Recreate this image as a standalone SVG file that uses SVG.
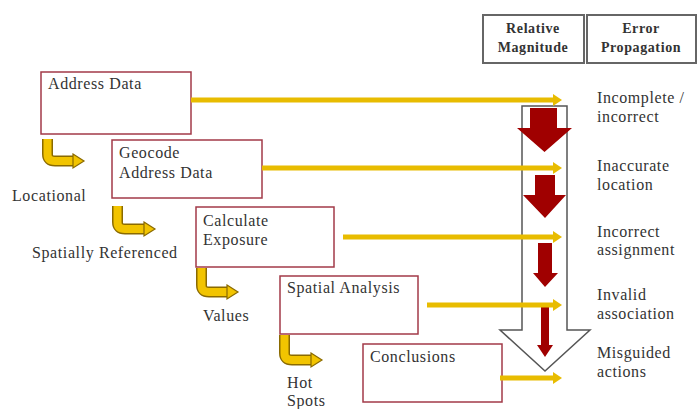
<svg xmlns="http://www.w3.org/2000/svg" width="697" height="409" viewBox="0 0 697 409">
<style>
  .box{fill:#fff;stroke:#a23a48;stroke-width:1.5}
  .hdr{fill:#fff;stroke:#666;stroke-width:2}
  .t{font-size:16px;letter-spacing:0.6px;fill:#333}
  .h{font-size:14px;font-weight:bold;letter-spacing:0.6px;fill:#333;text-anchor:middle}
  .yl{stroke:#e8bc00;stroke-width:5;fill:none}
  .yh{fill:#e8bc00}
  .bo{stroke:#8a6a00;stroke-width:11;fill:none;stroke-linejoin:round}
  .bi{stroke:#f2c400;stroke-width:8;fill:none;stroke-linejoin:round}
  .bh{fill:#f2c400;stroke:#8a6a00;stroke-width:1.2}
  .red{fill:#a00000}
</style>
<rect width="697" height="409" fill="#fff"/>
<g font-family="'Liberation Serif', 'Times New Roman', 'DejaVu Serif', serif">
<g id="header-magnitude">
  <rect class="hdr" x="483" y="15" width="101" height="48"/>
  <text class="h" x="533" y="33">Relative</text>
  <text class="h" x="533" y="52">Magnitude</text>
</g>
<g id="header-error">
  <rect class="hdr" x="587" y="15" width="109" height="48"/>
  <text class="h" x="641" y="33">Error</text>
  <text class="h" x="641" y="52">Propagation</text>
</g>
<g id="big-arrow">
  <polygon points="522,106 567,106 567,330 590,330 545,371 500,330 522,330" fill="#fff" stroke="#555" stroke-width="1.5"/>
</g>
<g id="red-arrows">
  <polygon class="red" points="530,108 557,108 557,128 572,128 544.5,152 517,128 530,128"/>
  <polygon class="red" points="535,175 555,175 555,195 566,195 545,218 523,195 535,195"/>
  <polygon class="red" points="538,243 552,243 552,273 558,273 545,287 533,273 538,273"/>
  <polygon class="red" points="541,307 549,307 549,345 553,345 545,357 537,345 541,345"/>
</g>
<g id="n1">
  <rect class="box" x="41" y="72" width="150" height="62"/>
  <text class="t" x="48" y="89">Address Data</text>
</g>
<g id="n2">
  <rect class="box" x="112" y="140" width="150" height="58"/>
  <text class="t" x="119" y="158">Geocode</text>
  <text class="t" x="119" y="178">Address Data</text>
</g>
<g id="n3">
  <rect class="box" x="196" y="207" width="138" height="60"/>
  <text class="t" x="203" y="226">Calculate</text>
  <text class="t" x="203" y="245">Exposure</text>
</g>
<g id="n4">
  <rect class="box" x="280" y="276" width="138" height="58"/>
  <text class="t" x="287" y="293">Spatial Analysis</text>
</g>
<g id="n5">
  <rect class="box" x="363" y="344" width="139" height="58"/>
  <text class="t" x="370" y="362">Conclusions</text>
</g>
<g id="connectors">
  <line class="yl" x1="191" y1="100" x2="554" y2="100"/>
  <polygon class="yh" points="553,94 562,100 553,106"/>
  <line class="yl" x1="262" y1="168" x2="554" y2="168"/>
  <polygon class="yh" points="553,162 562,168 553,174"/>
  <line class="yl" x1="343" y1="237" x2="554" y2="237"/>
  <polygon class="yh" points="553,231 562,237 553,243"/>
  <line class="yl" x1="427" y1="305" x2="554" y2="305"/>
  <polygon class="yh" points="553,299 562,305 553,311"/>
  <line class="yl" x1="500" y1="378" x2="554" y2="378"/>
  <polygon class="yh" points="553,372 562,378 553,384"/>

  <path class="bo" d="M47.5,139 V154 Q47.5,161 55,161 H74"/>
  <path class="bi" d="M47.5,139 V154 Q47.5,161 55,161 H74"/>
  <polygon class="bh" points="73,154 84,161 73,168"/>

  <path class="bo" d="M117.5,206 V222 Q117.5,229 125,229 H145"/>
  <path class="bi" d="M117.5,206 V222 Q117.5,229 125,229 H145"/>
  <polygon class="bh" points="144,222 155,229 144,236"/>

  <path class="bo" d="M201.5,268 V285 Q201.5,292 209,292 H228"/>
  <path class="bi" d="M201.5,268 V285 Q201.5,292 209,292 H228"/>
  <polygon class="bh" points="227,285 238,292 227,299"/>

  <path class="bo" d="M284.5,335 V353 Q284.5,360 292,360 H312"/>
  <path class="bi" d="M284.5,335 V353 Q284.5,360 292,360 H312"/>
  <polygon class="bh" points="311,353 322,360 311,367"/>
</g>
<g id="labels">
  <text class="t" x="12" y="201">Locational</text>
  <text class="t" x="32" y="258">Spatially Referenced</text>
  <text class="t" x="203" y="321">Values</text>
  <text class="t" x="287" y="388">Hot</text>
  <text class="t" x="287" y="406">Spots</text>
  <text class="t" x="597" y="103">Incomplete /</text>
  <text class="t" x="597" y="122">incorrect</text>
  <text class="t" x="597" y="171">Inaccurate</text>
  <text class="t" x="597" y="190">location</text>
  <text class="t" x="597" y="237">Incorrect</text>
  <text class="t" x="597" y="255">assignment</text>
  <text class="t" x="597" y="300">Invalid</text>
  <text class="t" x="597" y="319">association</text>
  <text class="t" x="597" y="358">Misguided</text>
  <text class="t" x="597" y="377">actions</text>
</g>
</g>
</svg>
